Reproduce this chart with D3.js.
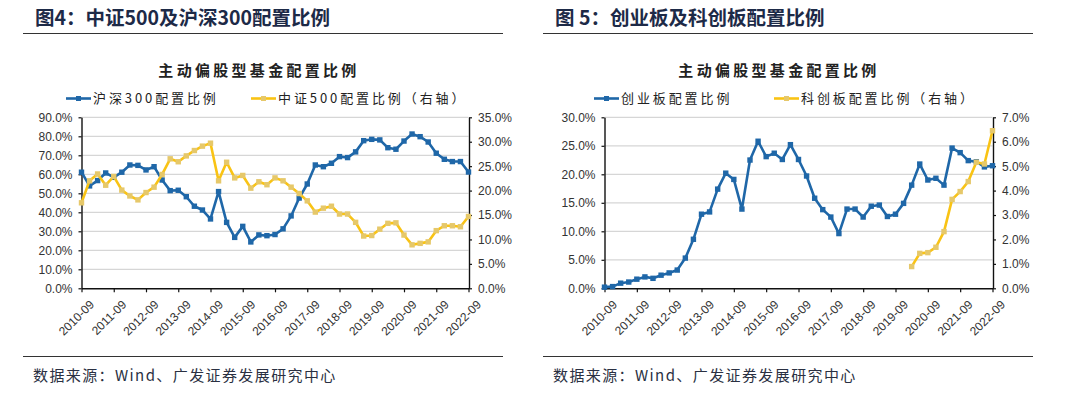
<!DOCTYPE html>
<html><head><meta charset="utf-8">
<script src="https://cdn.jsdelivr.net/npm/d3@7/dist/d3.min.js"></script>
<style>body{margin:0;background:#fff}svg{display:block}</style>
</head><body>
<svg id="c" width="1080" height="394"></svg>
<script>
const categories = [
 "2010-09","2010-12","2011-03","2011-06","2011-09","2011-12","2012-03","2012-06",
 "2012-09","2012-12","2013-03","2013-06","2013-09","2013-12","2014-03","2014-06",
 "2014-09","2014-12","2015-03","2015-06","2015-09","2015-12","2016-03","2016-06",
 "2016-09","2016-12","2017-03","2017-06","2017-09","2017-12","2018-03","2018-06",
 "2018-09","2018-12","2019-03","2019-06","2019-09","2019-12","2020-03","2020-06",
 "2020-09","2020-12","2021-03","2021-06","2021-09","2021-12","2022-03","2022-06","2022-09"];
const tickLabels = ["2010-09","2011-09","2012-09","2013-09","2014-09","2015-09","2016-09",
 "2017-09","2018-09","2019-09","2020-09","2021-09","2022-09"];

// Panel 1: 沪深300 (left axis) and 中证500 (right axis), %
const hs300 = [61.1,53.9,56.7,60.7,58.4,61.1,64.9,64.7,62.3,64.0,57.0,51.4,51.6,48.2,43.2,41.2,
 36.5,50.9,34.7,26.8,32.6,24.4,28.1,27.7,28.3,31.3,38.1,47.5,54.9,64.9,64.0,65.8,69.3,68.8,71.8,
 77.7,78.4,78.1,74.0,73.2,77.5,81.2,79.8,77.0,71.1,67.9,66.7,66.7,61.2];
const zz500 = [17.5,22.0,23.4,21.1,22.9,20.1,18.9,18.1,19.6,20.7,23.3,26.5,25.9,27.1,28.2,29.1,
 29.7,22.0,25.8,22.6,23.1,20.5,21.8,21.2,22.6,22.0,20.7,19.4,17.9,15.6,16.4,16.8,15.2,15.2,13.5,
 10.7,10.8,12.1,13.3,13.4,10.9,8.9,9.2,9.5,11.8,12.8,12.8,12.6,14.7];

// Panel 2: 创业板 (left axis) and 科创板 (right axis), %
const chinext = [0.2,0.3,0.9,1.1,1.6,2.0,1.75,2.3,2.7,3.2,5.3,8.6,13.0,13.4,17.4,20.2,19.1,13.9,
 22.5,25.8,23.1,23.7,22.6,25.2,22.6,19.7,15.8,13.8,12.5,9.6,13.9,13.9,12.5,14.4,14.6,12.6,13.0,
 14.9,18.1,21.8,19.0,19.3,18.1,24.6,23.8,22.4,22.2,21.3,21.5];
const star = [null,null,null,null,null,null,null,null,null,null,null,null,null,null,null,null,
 null,null,null,null,null,null,null,null,null,null,null,null,null,null,null,null,null,null,null,
 null,null,null,0.89,1.43,1.46,1.68,2.32,3.64,3.96,4.37,5.16,5.09,6.45];

const ticksL1 = [0,10,20,30,40,50,60,70,80,90];
const ticksR1 = [0,5,10,15,20,25,30,35];
const ticksL2 = [0,5,10,15,20,25,30];
const ticksR2 = [0,1,2,3,4,5,6,7];

const BLUE = "#1f67a8", GOLD = "#f9c314", GOLDM = "#e6c86a";
const CJK = "'Noto Sans CJK SC','Noto Sans',sans-serif";
const svg = d3.select("#c");

function panel(o) {
  const g = svg.append("g");
  // header
  g.append("text").attr("x", o.titleX).attr("y", 25).text(o.title)
   .attr("font-family", CJK).attr("font-weight", "bold").attr("font-size", 19.5).attr("fill", "#1d2a47");
  g.append("line").attr("x1", o.ruleX0).attr("x2", o.ruleX1).attr("y1", 33.5).attr("y2", 33.5)
   .attr("stroke", "#333").attr("stroke-width", 1.2);
  g.append("line").attr("x1", o.ruleX0).attr("x2", o.ruleX1).attr("y1", 356.5).attr("y2", 356.5)
   .attr("stroke", "#333").attr("stroke-width", 1.2);
  g.append("text").attr("x", o.srcX).attr("y", 381).text("数据来源：Wind、广发证券发展研究中心")
   .attr("font-family", CJK).attr("font-size", 15).attr("letter-spacing", 1.4).attr("fill", "#2a3042");
  // chart title
  g.append("text").attr("x", o.ctitleX).attr("y", 76).attr("text-anchor", "middle")
   .text("主动偏股型基金配置比例").attr("font-family", CJK).attr("font-weight", "bold")
   .attr("font-size", 15).attr("letter-spacing", 3.3).attr("fill", "#222");

  const x = d3.scalePoint().domain(categories).range([o.x0, o.x1]);
  const yL = d3.scaleLinear().domain([0, o.maxL]).range([288.3, 117.3]);
  const yR = d3.scaleLinear().domain([0, o.maxR]).range([288.3, 117.3]);

  // grid
  g.append("g").selectAll("line").data(o.ticksL.filter(d => d > 0)).join("line")
   .attr("x1", o.x0).attr("x2", o.x1).attr("y1", d => yL(d)).attr("y2", d => yL(d))
   .attr("stroke", "#d6d6d6").attr("stroke-width", 1.3);

  const fmt = d => d.toFixed(1) + "%";
  const axL = g.append("g").attr("transform", `translate(${o.x0},0)`)
   .call(d3.axisLeft(yL).tickValues(o.ticksL).tickFormat(fmt).tickSize(3).tickSizeOuter(0).tickPadding(6));
  const axR = g.append("g").attr("transform", `translate(${o.x1 + 0.5},0)`)
   .call(d3.axisRight(yR).tickValues(o.ticksR).tickFormat(fmt).tickSize(3).tickSizeOuter(0).tickPadding(6));
  const axB = g.append("g").attr("transform", "translate(0,288.3)")
   .call(d3.axisBottom(x).tickValues(tickLabels).tickSize(4).tickSizeOuter(0));
  axB.selectAll("text").attr("text-anchor", "end").attr("dy", "0.35em")
   .attr("transform", "translate(5,9) rotate(-45)");
  [axL, axR, axB].forEach(a => {
    a.selectAll("path.domain").attr("stroke", "#111").attr("stroke-width", 1.4);
    a.selectAll(".tick line").attr("stroke", "#111").attr("stroke-width", 1.2);
    a.selectAll("text").attr("font-family", "'Liberation Sans',Arial,sans-serif")
     .attr("font-size", 12).attr("fill", "#333");
  });

  function series(vals, sc, lc, mc) {
    const line = d3.line().defined(d => d != null)
      .x((d, i) => x(categories[i])).y(d => sc(d));
    g.append("path").datum(vals).attr("d", line).attr("fill", "none")
     .attr("stroke", lc).attr("stroke-width", 2.6).attr("stroke-linejoin", "round");
    const pts = vals.map((v, i) => ({v, c: categories[i]})).filter(p => p.v != null);
    g.append("g").selectAll("rect").data(pts).join("rect")
     .attr("x", p => x(p.c) - 2.7).attr("y", p => sc(p.v) - 2.7)
     .attr("width", 5.4).attr("height", 5.4).attr("fill", mc);
  }
  series(o.left, yL, BLUE, BLUE);
  series(o.right, yR, GOLD, GOLDM);

  // legend
  const lg = g.append("g");
  [[o.leg1X, BLUE, BLUE, o.leg1], [o.leg2X, GOLD, GOLDM, o.leg2]].forEach(([lx, lc, mc, t]) => {
    lg.append("line").attr("x1", lx).attr("x2", lx + 25).attr("y1", 98.5).attr("y2", 98.5)
      .attr("stroke", lc).attr("stroke-width", 2.6);
    lg.append("rect").attr("x", lx + 10).attr("y", 96).attr("width", 5).attr("height", 5).attr("fill", mc);
    lg.append("text").attr("x", lx + 27).attr("y", 103).text(t)
      .attr("font-family", CJK).attr("font-size", 13).attr("letter-spacing", 2.9).attr("fill", "#222");
  });
}

panel({title: "图4：中证500及沪深300配置比例", titleX: 35, ruleX0: 23, ruleX1: 503, srcX: 33,
  ctitleX: 259, x0: 81.5, x1: 468.5, maxL: 90, maxR: 35, ticksL: ticksL1, ticksR: ticksR1,
  left: hs300, right: zz500, leg1X: 66, leg1: "沪深300配置比例", leg2X: 251, leg2: "中证500配置比例（右轴）"});
panel({title: "图 5：创业板及科创板配置比例", titleX: 555, ruleX0: 543, ruleX1: 1033, srcX: 553,
  ctitleX: 779, x0: 604.5, x1: 992.5, maxL: 30, maxR: 7, ticksL: ticksL2, ticksR: ticksR2,
  left: chinext, right: star, leg1X: 594, leg1: "创业板配置比例", leg2X: 774, leg2: "科创板配置比例（右轴）"});
</script>
</body></html>
